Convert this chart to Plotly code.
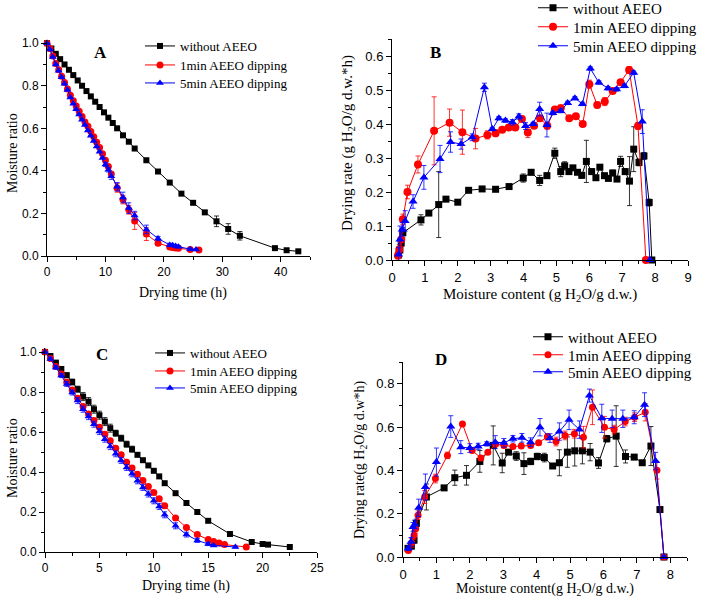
import plotly.graph_objects as go

W, H = 709, 601

# ---- panel A: moisture ratio vs drying time (first batch) ----
a_t_black = [0, 0.75, 1.5, 2.25, 3, 3.75, 4.5, 5.25, 6, 6.75, 7.5, 8.25, 9, 9.75, 10.5, 11.25,
             12, 13, 14, 15, 17, 19, 21, 23, 25, 27, 29, 31, 33, 39, 41, 43]
a_mr_black = [1.0, 0.975, 0.95, 0.925, 0.9, 0.875, 0.85, 0.825, 0.8, 0.775, 0.75, 0.725, 0.7, 0.675,
              0.65, 0.625, 0.6, 0.567, 0.537, 0.505, 0.45, 0.397, 0.345, 0.293, 0.25, 0.205, 0.163,
              0.127, 0.095, 0.037, 0.027, 0.022]
a_err_black = [0] * 25 + [0.008, 0.025, 0.025, 0.02, 0.005, 0.005, 0.005]

a_t_red = [0, 0.5, 1, 1.5, 2, 2.5, 3, 3.5, 4, 4.5, 5, 5.5, 6, 6.5, 7, 7.5, 8, 8.5, 9, 9.5, 10, 10.5, 11,
           12, 13, 14, 15, 17, 19, 21, 21.5, 22, 22.5, 24.5, 26]
a_mr_red = [1.0, 0.975, 0.94, 0.905, 0.875, 0.845, 0.815, 0.785, 0.755, 0.73, 0.705, 0.68, 0.655, 0.63,
            0.61, 0.585, 0.56, 0.535, 0.51, 0.48, 0.45, 0.42, 0.385,
            0.32, 0.265, 0.217, 0.165, 0.103, 0.06, 0.042, 0.04, 0.038, 0.036, 0.03, 0.028]
a_err_red = [0] * 20 + [0.008, 0.008, 0.01, 0.02, 0.02, 0.02, 0.04, 0.03, 0.01, 0.005, 0.005, 0.005,
                        0.005, 0.005, 0.005]

a_t_blue = [0, 0.5, 1, 1.5, 2, 2.5, 3, 3.5, 4, 4.5, 5, 5.5, 6, 6.5, 7, 7.5, 8, 8.5, 9, 9.5, 10, 10.5, 11,
            12, 13, 14, 15, 17, 19, 21, 21.5, 22, 22.5, 24.5, 25.5]
a_mr_blue = [1.0, 0.97, 0.935, 0.9, 0.87, 0.84, 0.81, 0.78, 0.745, 0.715, 0.69, 0.665, 0.64, 0.615,
             0.59, 0.565, 0.54, 0.515, 0.49, 0.46, 0.43, 0.405, 0.375,
             0.325, 0.275, 0.225, 0.19, 0.125, 0.082, 0.052, 0.05, 0.047, 0.043, 0.032, 0.03]
a_err_blue = [0] * 20 + [0.01, 0.01, 0.015, 0.02, 0.025, 0.025, 0.02, 0.02, 0.01, 0.008, 0.005, 0.005,
                         0.005, 0.005, 0.005]

# ---- panel B: drying rate vs moisture content (first batch) ----
b_x_black = [0.2, 0.24, 0.28, 0.33, 0.88, 1.12, 1.42, 1.64, 2.0, 2.33, 2.74, 3.15, 3.56, 3.99, 4.23,
             4.49, 4.71, 4.95, 5.13, 5.25, 5.38, 5.5, 5.64, 5.77, 5.91, 6.07, 6.2, 6.32, 6.46, 6.58,
             6.71, 6.84, 6.95, 7.09, 7.22, 7.35, 7.51, 7.66, 7.82, 7.9]
b_y_black = [0.015, 0.03, 0.05, 0.08, 0.118, 0.138, 0.163, 0.179, 0.17, 0.205, 0.209, 0.208, 0.216,
             0.241, 0.258, 0.234, 0.248, 0.314, 0.26, 0.277, 0.26, 0.271, 0.258, 0.249, 0.29, 0.26,
             0.242, 0.273, 0.248, 0.24, 0.256, 0.238, 0.29, 0.26, 0.232, 0.326, 0.287, 0.306, 0.169, 0.0]
b_err_black = [0.01, 0.01, 0.01, 0.015, 0.015, 0.005, 0.097, 0.005, 0.005, 0.005, 0.005, 0.005, 0.005,
               0.012, 0.008, 0.015, 0.008, 0.015, 0.015, 0.012, 0.008, 0.005, 0.005, 0.008, 0.062,
               0.008, 0.005, 0.005, 0.005, 0.005, 0.008, 0.005, 0.015, 0.008, 0.072, 0.066, 0.01,
               0.01, 0.01, 0.0]

b_x_red = [0.18, 0.22, 0.28, 0.33, 0.47, 0.79, 1.28, 1.75, 2.14, 2.54, 2.9, 3.15, 3.35, 3.55, 3.75,
           3.95, 4.13, 4.32, 4.5, 4.72, 4.95, 5.13, 5.39, 5.59, 5.8, 6.0, 6.24, 6.47, 6.71, 6.95, 7.21,
           7.48, 7.72]
b_y_red = [0.013, 0.03, 0.06, 0.12, 0.2, 0.281, 0.38, 0.404, 0.376, 0.357, 0.368, 0.373, 0.383, 0.39,
           0.39, 0.415, 0.375, 0.395, 0.417, 0.395, 0.443, 0.446, 0.417, 0.423, 0.4, 0.517, 0.456,
           0.466, 0.497, 0.523, 0.559, 0.394, 0.0]
b_err_red = [0.01, 0.015, 0.02, 0.015, 0.02, 0.025, 0.1, 0.04, 0.065, 0.03, 0.012, 0.01, 0.005, 0.005,
             0.008, 0.008, 0.015, 0.008, 0.008, 0.01, 0.005, 0.01, 0.008, 0.005, 0.005, 0.012, 0.008,
             0.012, 0.005, 0.005, 0.01, 0.01, 0.0]

b_x_blue = [0.2, 0.24, 0.31, 0.4, 0.64, 0.97, 1.46, 1.78, 2.1, 2.44, 2.81, 3.05, 3.25, 3.45, 3.66,
            3.86, 4.06, 4.29, 4.49, 4.71, 4.89, 5.13, 5.34, 5.56, 5.79, 6.03, 6.29, 6.57, 6.83, 7.07,
            7.35, 7.61, 7.84]
b_y_blue = [0.016, 0.06, 0.09, 0.115, 0.172, 0.243, 0.297, 0.347, 0.341, 0.361, 0.508, 0.385, 0.417,
            0.41, 0.405, 0.422, 0.394, 0.4, 0.444, 0.397, 0.432, 0.438, 0.462, 0.476, 0.459, 0.563,
            0.522, 0.505, 0.502, 0.512, 0.551, 0.407, 0.0]
b_err_blue = [0.02, 0.04, 0.02, 0.03, 0.02, 0.035, 0.04, 0.03, 0.015, 0.01, 0.012, 0.005, 0.005, 0.005,
              0.008, 0.008, 0.01, 0.005, 0.02, 0.035, 0.005, 0.005, 0.005, 0.005, 0.005, 0.005, 0.005,
              0.005, 0.005, 0.005, 0.005, 0.035, 0.0]

# ---- panel C: moisture ratio vs drying time (second batch) ----
c_t_black = [0, 0.5, 1, 1.5, 2, 2.5, 3, 3.5, 4, 4.5, 5, 5.5, 6, 6.5, 7, 7.5, 8, 8.5, 9, 9.5, 10, 10.5, 11,
             12, 13, 14, 15, 17, 19, 20, 20.5, 22.5]
c_mr_black = [1.0, 0.98, 0.947, 0.915, 0.884, 0.85, 0.814, 0.777, 0.752, 0.714, 0.684, 0.652, 0.619,
              0.594, 0.569, 0.539, 0.514, 0.486, 0.459, 0.433, 0.406, 0.378, 0.344,
              0.294, 0.245, 0.2, 0.156, 0.09, 0.05, 0.04, 0.037, 0.025]
c_err_black = [0, 0.005, 0.008, 0.01, 0.012, 0.015, 0.015, 0.02, 0.02, 0.02, 0.02, 0.02, 0.02, 0.015,
               0.015, 0.015, 0.015, 0.01, 0.005, 0.005, 0.005, 0.005, 0.005,
               0.005, 0.005, 0.005, 0.005, 0.005, 0.003, 0.003, 0.003, 0.003]

c_t_red = [0, 0.5, 1, 1.5, 2, 2.5, 3, 3.5, 4, 4.5, 5, 5.5, 6, 6.5, 7, 7.5, 8, 8.5, 9, 9.5, 10, 10.5, 11,
           12, 13, 14, 15, 15.5, 16, 16.5, 18.5]
c_mr_red = [1.0, 0.968, 0.927, 0.89, 0.849, 0.81, 0.769, 0.727, 0.69, 0.657, 0.624, 0.589, 0.556,
            0.519, 0.486, 0.449, 0.42, 0.389, 0.358, 0.328, 0.298, 0.266, 0.231,
            0.17, 0.123, 0.087, 0.062, 0.053, 0.045, 0.037, 0.025]
c_err_red = [0, 0.005, 0.005, 0.008, 0.008, 0.01, 0.01, 0.01, 0.01, 0.01, 0.01, 0.01, 0.01, 0.01, 0.01,
             0.01, 0.01, 0.01, 0.01, 0.01, 0.01, 0.01, 0.01,
             0.01, 0.01, 0.008, 0.005, 0.005, 0.005, 0.005, 0.003]

c_t_blue = [0, 0.5, 1, 1.5, 2, 2.5, 3, 3.5, 4, 4.5, 5, 5.5, 6, 6.5, 7, 7.5, 8, 8.5, 9, 9.5, 10, 10.5, 11,
            12, 13, 14, 15, 15.5, 17.5]
c_mr_blue = [1.0, 0.965, 0.922, 0.882, 0.84, 0.797, 0.757, 0.714, 0.677, 0.639, 0.602, 0.564, 0.527,
             0.491, 0.458, 0.423, 0.391, 0.356, 0.323, 0.29, 0.256, 0.228, 0.186,
             0.131, 0.087, 0.058, 0.04, 0.033, 0.025]
c_err_blue = [0, 0.005, 0.008, 0.01, 0.012, 0.012, 0.015, 0.015, 0.015, 0.015, 0.015, 0.015, 0.015,
              0.015, 0.015, 0.015, 0.015, 0.015, 0.015, 0.015, 0.015, 0.015, 0.015,
              0.015, 0.012, 0.01, 0.008, 0.005, 0.005]

# ---- panel D: drying rate vs moisture content (second batch) ----
d_x_black = [0.15, 0.25, 0.33, 0.4, 0.7, 1.23, 1.55, 1.9, 2.3, 2.7, 2.97, 3.16, 3.39, 3.62, 3.82, 4.02,
             4.23, 4.48, 4.68, 4.92, 5.14, 5.37, 5.6, 5.85, 6.1, 6.38, 6.66, 6.92, 7.16, 7.42, 7.69, 7.81]
d_y_black = [0.04, 0.05, 0.078, 0.155, 0.277, 0.319, 0.366, 0.377, 0.441, 0.515, 0.434, 0.484, 0.466,
             0.431, 0.441, 0.464, 0.459, 0.42, 0.435, 0.484, 0.49, 0.49, 0.484, 0.434, 0.546, 0.558,
             0.464, 0.461, 0.435, 0.512, 0.219, 0.0]
d_err_black = [0.01, 0.01, 0.015, 0.02, 0.06, 0.005, 0.035, 0.045, 0.05, 0.09, 0.045, 0.01, 0.02, 0.05,
               0.015, 0.015, 0.02, 0.01, 0.06, 0.07, 0.07, 0.06, 0.04, 0.025, 0.015, 0.14, 0.03, 0.01,
               0.01, 0.09, 0.01, 0.0]

d_x_red = [0.16, 0.26, 0.33, 0.38, 0.45, 0.65, 0.97, 1.33, 1.78, 2.07, 2.33, 2.54, 2.77, 3.02, 3.29,
           3.54, 3.82, 4.06, 4.32, 4.58, 4.85, 5.13, 5.4, 5.67, 6.03, 6.32, 6.65, 6.93, 7.25, 7.6, 7.81]
d_y_red = [0.03, 0.065, 0.1, 0.13, 0.193, 0.277, 0.362, 0.469, 0.614, 0.492, 0.457, 0.484, 0.52,
           0.515, 0.51, 0.512, 0.515, 0.527, 0.555, 0.533, 0.561, 0.569, 0.553, 0.691, 0.599, 0.588,
           0.625, 0.645, 0.668, 0.4, 0.0]
d_err_red = [0.01, 0.02, 0.02, 0.02, 0.02, 0.03, 0.02, 0.015, 0.008, 0.01, 0.01, 0.008, 0.008, 0.01,
             0.008, 0.01, 0.01, 0.01, 0.015, 0.02, 0.02, 0.02, 0.05, 0.08, 0.05, 0.02, 0.02, 0.02,
             0.04, 0.04, 0.0]

d_x_blue = [0.16, 0.24, 0.3, 0.35, 0.47, 0.67, 1.0, 1.43, 1.73, 2.0, 2.25, 2.51, 2.76, 3.02, 3.29,
            3.56, 3.82, 4.1, 4.4, 4.68, 4.97, 5.28, 5.58, 5.95, 6.26, 6.58, 6.92, 7.23, 7.56, 7.81]
d_y_blue = [0.04, 0.07, 0.139, 0.15, 0.227, 0.323, 0.438, 0.602, 0.507, 0.503, 0.51, 0.522, 0.53,
            0.527, 0.546, 0.55, 0.53, 0.599, 0.549, 0.579, 0.633, 0.588, 0.745, 0.64, 0.638, 0.638,
            0.645, 0.703, 0.443, 0.0]
d_err_blue = [0.01, 0.02, 0.02, 0.02, 0.04, 0.06, 0.065, 0.05, 0.03, 0.02, 0.015, 0.01, 0.03, 0.02,
              0.015, 0.02, 0.02, 0.04, 0.02, 0.04, 0.045, 0.04, 0.03, 0.065, 0.04, 0.04, 0.03, 0.055,
              0.04, 0.0]

series_names = ["without AEEO", "1min AEEO dipping", "5min AEEO dipping"]
colors = ["#000000", "#ff0000", "#0000ff"]
symbols = ["square", "circle", "triangle-up"]

SERIF = "Liberation Serif, Times New Roman, serif"
SANS = "Liberation Sans, Arial, sans-serif"


def px(x):
    return x / W


def py(y):
    return 1 - y / H


fig = go.Figure()

# (x axis, y axis, traces, marker sizes, legend left px, legend row centres px, legend font)
panels = [
    ("x", "y", [(a_t_black, a_mr_black, a_err_black), (a_t_red, a_mr_red, a_err_red),
                (a_t_blue, a_mr_blue, a_err_blue)], [6, 7, 7], 140, [46, 65, 83], 13),
    ("x2", "y2", [(b_x_black, b_y_black, b_err_black), (b_x_red, b_y_red, b_err_red),
                  (b_x_blue, b_y_blue, b_err_blue)], [7, 8, 8], 533, [8, 27, 46], 15),
    ("x3", "y3", [(c_t_black, c_mr_black, c_err_black), (c_t_red, c_mr_red, c_err_red),
                  (c_t_blue, c_mr_blue, c_err_blue)], [6, 7, 7], 150, [353, 371, 388], 13),
    ("x4", "y4", [(d_x_black, d_y_black, d_err_black), (d_x_red, d_y_red, d_err_red),
                  (d_x_blue, d_y_blue, d_err_blue)], [7, 7, 8], 528, [337, 355, 372], 15),
]

legend_layout = {}
n = 0
for xa, ya, data, sizes, lx, rows, lfont in panels:
    for i, (xs, ys, es) in enumerate(data):
        n += 1
        leg = "legend" if n == 1 else f"legend{n}"
        fig.add_trace(go.Scatter(
            x=xs, y=ys, xaxis=xa, yaxis=ya, legend=leg,
            name=series_names[i], mode="lines+markers", cliponaxis=False,
            line=dict(color=colors[i], width=1),
            marker=dict(symbol=symbols[i], size=sizes[i], color=colors[i]),
            error_y=dict(type="data", array=es, visible=True, color=colors[i],
                         thickness=0.8, width=2.5),
        ))
        # one legend per row so each entry sits where the reference puts it
        legend_layout[leg] = dict(
            xref="container", yref="container", x=px(lx), y=py(rows[i]),
            xanchor="left", yanchor="middle", bgcolor="rgba(0,0,0,0)", borderwidth=0,
            font=dict(family=SERIF, size=lfont, color="black"))

axis_common = dict(showline=True, linecolor="black", linewidth=1, mirror=False,
                   showgrid=False, zeroline=False, ticks="outside", ticklen=5,
                   tickcolor="black", tickwidth=1)


def ax(domain, rng, dtick, minor, anchor, size, fmt):
    d = dict(axis_common)
    d.update(domain=domain, range=rng, dtick=dtick, anchor=anchor, tickformat=fmt,
             tickfont=dict(family=SANS, size=size, color="black"),
             minor=dict(dtick=minor, ticks="outside", ticklen=3, tickcolor="black", showgrid=False))
    return d


fig.update_layout(
    width=W, height=H, margin=dict(l=0, r=0, t=0, b=0, autoexpand=False),
    plot_bgcolor="white", paper_bgcolor="white", showlegend=True,
    xaxis=ax([px(47), px(310)], [0, 45], 10, 5, "y", 12, "d"),
    yaxis=ax([py(256), py(40)], [0, 1.015], 0.2, 0.1, "x", 12, ".1f"),
    xaxis2=ax([px(392), px(688)], [0, 9], 1, 0.5, "y2", 13, "d"),
    yaxis2=ax([py(260), py(39)], [0, 0.65], 0.1, 0.05, "x2", 13, ".1f"),
    xaxis3=ax([px(45), px(317)], [0, 25], 5, 2.5, "y3", 12, "d"),
    yaxis3=ax([py(552), py(348)], [0, 1.02], 0.2, 0.1, "x3", 12, ".1f"),
    xaxis4=ax([px(403), px(687)], [0, 8.5], 1, 0.5, "y4", 13, "d"),
    yaxis4=ax([py(557), py(362)], [0, 0.9], 0.2, 0.1, "x4", 13, ".1f"),
    **legend_layout,
)

annotations = [
    # panel letters
    dict(text="<b>A</b>", x=px(100), y=py(52), size=17),
    dict(text="<b>B</b>", x=px(435), y=py(52), size=17),
    dict(text="<b>C</b>", x=px(102), y=py(354), size=17),
    dict(text="<b>D</b>", x=px(441), y=py(359), size=17),
    # axis titles
    dict(text="Drying time (h)", x=px(183), y=py(293), size=14),
    dict(text="Moisture ratio", x=px(12), y=py(153), size=14, angle=-90),
    dict(text="Moisture content (g H<sub>2</sub>O/g d.w.)", x=px(540), y=py(295), size=15),
    dict(text="Drying rate (g H<sub>2</sub>O/g d.w.*h)", x=px(348), y=py(143), size=15, angle=-90),
    dict(text="Drying time (h)", x=px(186), y=py(586), size=14),
    dict(text="Moisture ratio", x=px(12), y=py(458), size=14, angle=-90),
    dict(text="Moisture content(g H<sub>2</sub>O/g d.w.)", x=px(545), y=py(589), size=14),
    dict(text="Drying rate(g H<sub>2</sub>O/g d.w*h)", x=px(360), y=py(460), size=14, angle=-90),
]
for a in annotations:
    fig.add_annotation(text=a["text"], x=a["x"], y=a["y"], xref="paper", yref="paper",
                       xanchor="center", yanchor="middle", showarrow=False,
                       textangle=a.get("angle", 0),
                       font=dict(family=SERIF, size=a["size"], color="black"))

# drop the browser's default 8px body margin so the figure starts at the window corner
fig.write_html("out.html", config={"displayModeBar": False},
               post_script="document.body.style.margin='0';")
